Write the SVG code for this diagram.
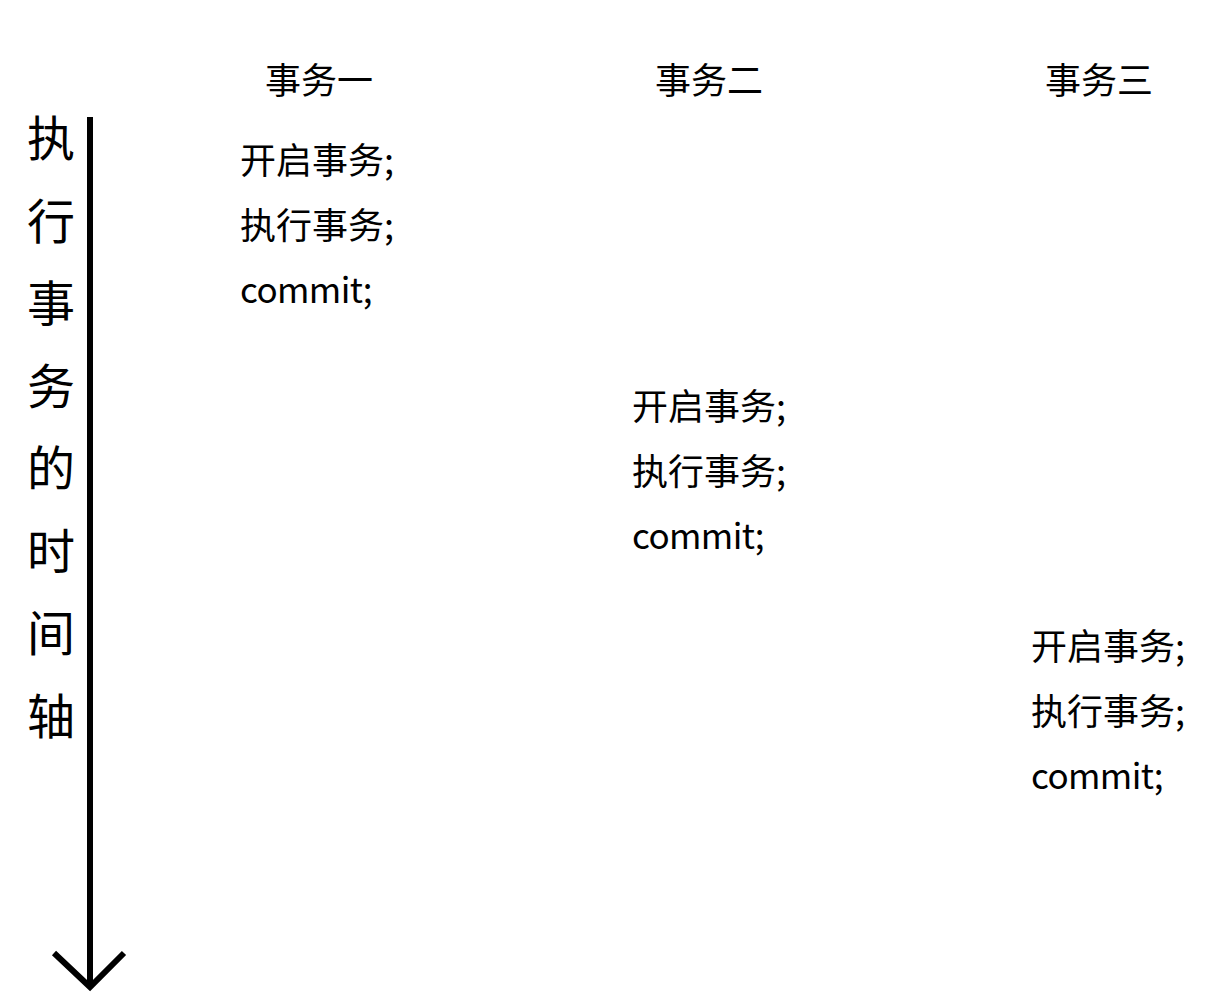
<svg xmlns="http://www.w3.org/2000/svg" width="1219" height="1007" viewBox="0 0 1219 1007">
<style>
text{font-family:"Noto Sans CJK SC","Noto Sans",sans-serif;fill:#000}
.h{font-size:36px}
.b{font-size:36px}
.c{font-size:35px;letter-spacing:-0.6px}
.v{font-size:48px}
.ax{stroke:#000;stroke-width:6;fill:none}
</style>
<rect width="1219" height="1007" fill="#fff"/>
<g id="axis-label">
<text class="v" x="27" y="156">执</text>
<text class="v" x="27" y="239">行</text>
<text class="v" x="27" y="321">事</text>
<text class="v" x="27" y="404">务</text>
<text class="v" x="27" y="486">的</text>
<text class="v" x="27" y="569">时</text>
<text class="v" x="27" y="651">间</text>
<text class="v" x="27" y="734">轴</text>
</g>
<g id="connectors">
<line class="ax" x1="90" y1="117" x2="90" y2="986"/>
<polyline class="ax" points="54,953 90,987 124,953"/>
</g>
<g id="t1">
<text class="h" x="265" y="94">事务一</text>
<text class="b" x="240" y="174">开启事务;</text>
<text class="b" x="240" y="239">执行事务;</text>
<text class="c" x="240" y="303">commit;</text>
</g>
<g id="t2">
<text class="h" x="655" y="94">事务二</text>
<text class="b" x="632" y="420">开启事务;</text>
<text class="b" x="632" y="485">执行事务;</text>
<text class="c" x="632" y="549">commit;</text>
</g>
<g id="t3">
<text class="h" x="1045" y="94">事务三</text>
<text class="b" x="1031" y="660">开启事务;</text>
<text class="b" x="1031" y="725">执行事务;</text>
<text class="c" x="1031" y="789">commit;</text>
</g>
</svg>
